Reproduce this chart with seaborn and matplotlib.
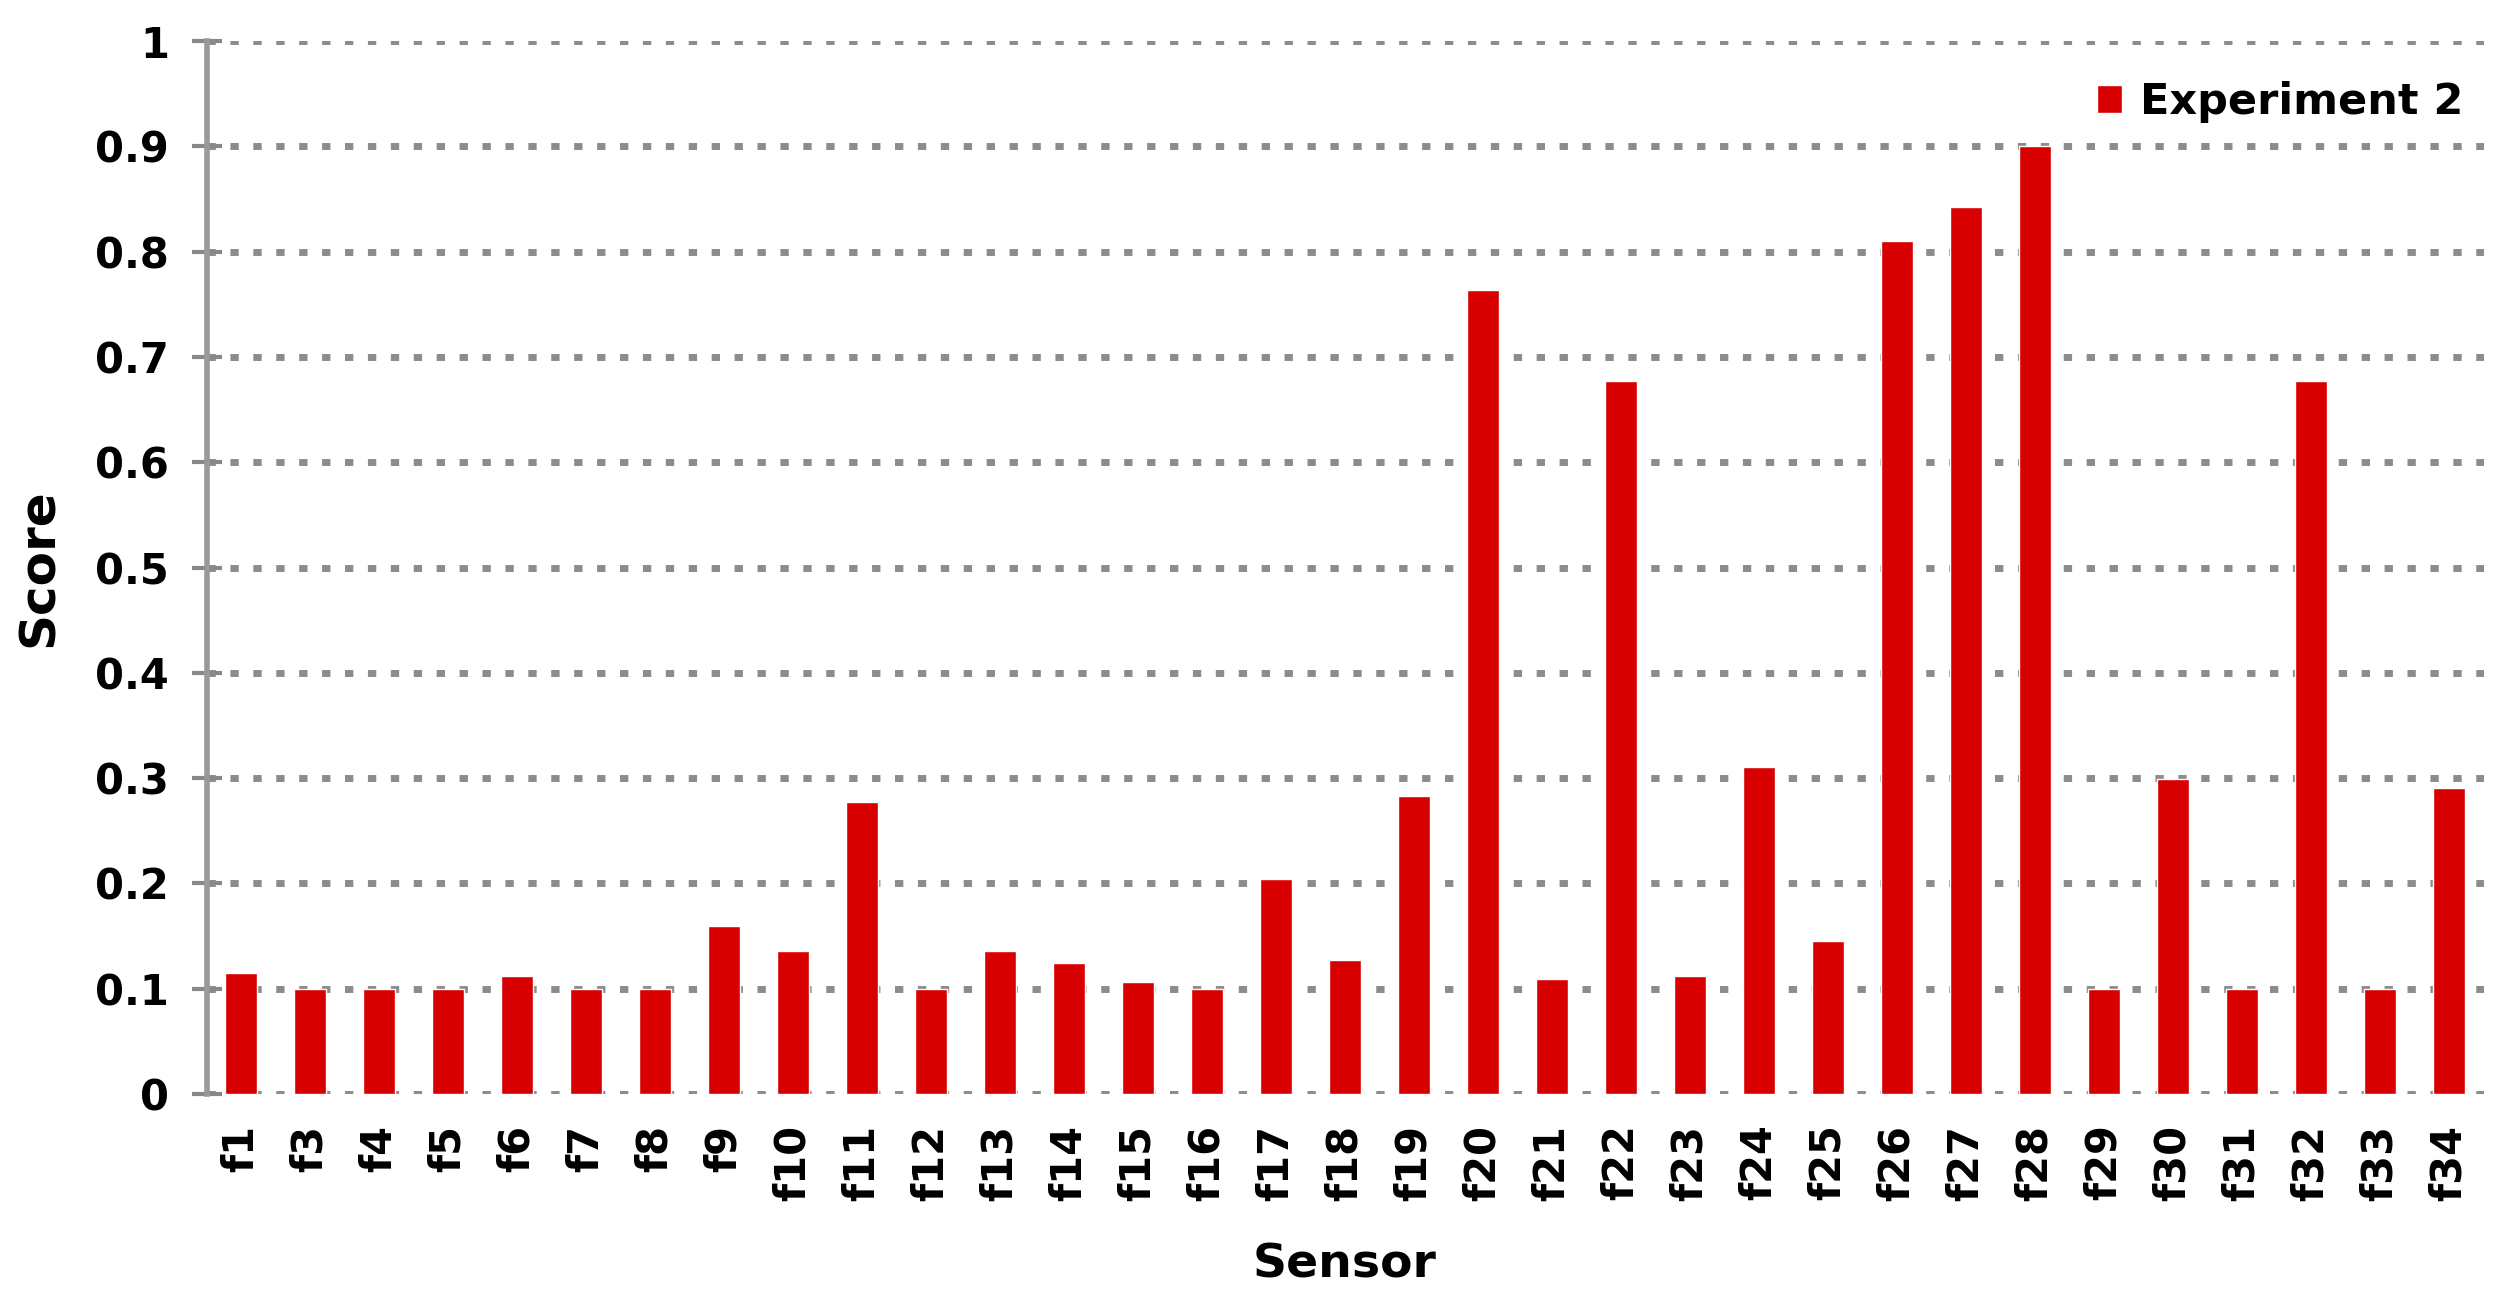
import numpy as np
import seaborn as sns
import matplotlib.pyplot as plt

# Sensor scores for experiment 2
sensors = ['f1', 'f3', 'f4', 'f5', 'f6', 'f7', 'f8', 'f9', 'f10', 'f11', 'f12',
           'f13', 'f14', 'f15', 'f16', 'f17', 'f18', 'f19', 'f20', 'f21', 'f22',
           'f23', 'f24', 'f25', 'f26', 'f27', 'f28', 'f29', 'f30', 'f31', 'f32',
           'f33', 'f34']
scores = [0.115, 0.1, 0.1, 0.1, 0.112, 0.1, 0.1, 0.16, 0.136, 0.277, 0.1,
          0.136, 0.124, 0.106, 0.1, 0.204, 0.127, 0.283, 0.764, 0.109, 0.677,
          0.112, 0.311, 0.145, 0.81, 0.842, 0.9, 0.1, 0.299, 0.1, 0.677,
          0.1, 0.291]
y_ticks = [0, 0.1, 0.2, 0.3, 0.4, 0.5, 0.6, 0.7, 0.8, 0.9, 1]
y_tick_labels = ['0', '0.1', '0.2', '0.3', '0.4', '0.5', '0.6', '0.7', '0.8', '0.9', '1']
series_name = 'Experiment 2'

sns.set_style('white')
plt.rcParams['font.family'] = ['DejaVu Sans']
plt.rcParams['text.color'] = 'black'
plt.rcParams['axes.labelcolor'] = 'black'

fig = plt.figure(figsize=(25, 13.04), dpi=100)
ax = fig.add_axes([0.0826, 0.161, 0.9108, 0.8075])

sns.barplot(x=sensors, y=scores, color='#D80000', saturation=1, width=0.46,
            label=series_name, ax=ax, zorder=3)

ax.set_xlim(-0.5, len(sensors) - 0.5)
ax.set_ylim(0, 1)
ax.set_yticks(y_ticks)
ax.set_yticklabels(y_tick_labels, fontsize=30, fontweight='bold')
ax.set_xticks(range(len(sensors)))
ax.set_xticklabels(sensors, rotation=90, fontsize=30, fontweight='bold')

# dotted horizontal grid
ax.yaxis.grid(True, color='#8c8c8c', linewidth=5, linestyle=(0, (1.2, 2.1)), zorder=1)
ax.xaxis.grid(False)
ax.set_axisbelow(True)

for side in ['top', 'right', 'bottom']:
    ax.spines[side].set_visible(False)
ax.spines['left'].set_color('#999999')
ax.spines['left'].set_linewidth(4)

ax.tick_params(axis='y', left=True, direction='inout', length=22, width=3,
               color='#888888', labelcolor='black', pad=16)
ax.tick_params(axis='x', bottom=False, length=0, labelcolor='black', pad=22)

ax.set_xlabel('Sensor', fontsize=34, fontweight='bold')
ax.set_ylabel('Score', fontsize=36, fontweight='bold')
ax.xaxis.set_label_coords(0.5, -0.1624)
ax.xaxis.label.set_va('center')
ax.yaxis.set_label_coords(-0.0736, 0.5)
ax.yaxis.label.set_va('center')

ax.legend(loc='center right', bbox_to_anchor=(0.991, 0.942), frameon=False,
          prop={'size': 31, 'weight': 'bold'}, handlelength=0.6, handleheight=0.6,
          handletextpad=0.4, borderpad=0, borderaxespad=0)

fig.savefig('out.png', dpi=100)
plt.close(fig)
